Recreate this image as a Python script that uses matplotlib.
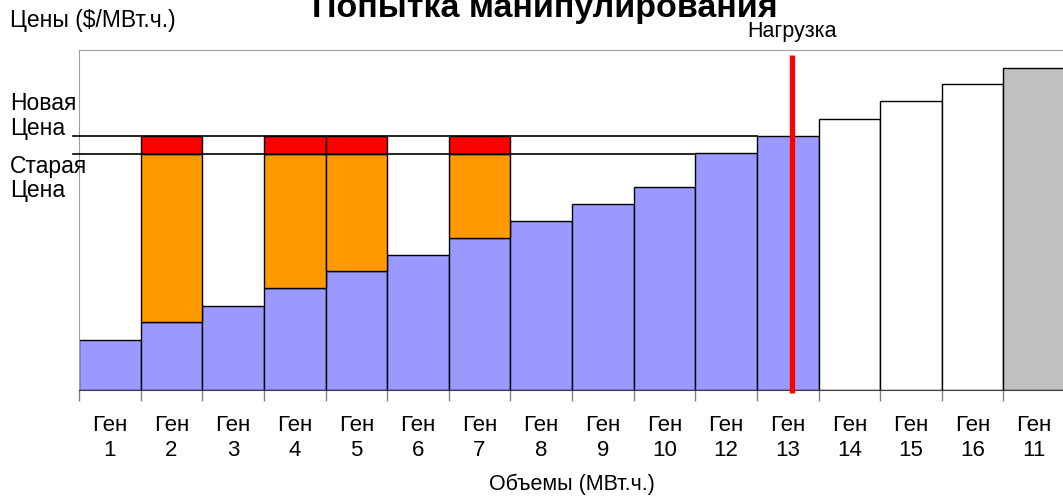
import numpy as np
import matplotlib.pyplot as plt

plt.rcParams['font.family'] = ['Liberation Sans', 'DejaVu Sans']

# ----------------------------
# Data
# ----------------------------
gens = ["1", "2", "3", "4", "5", "6", "7", "8", "9", "10", "12", "13", "14", "15", "16", "11"]
prices = [50, 68, 84, 102, 119, 135, 152, 169, 186, 203, 237, 254, 271, 289, 306, 322]
manipulated = ["2", "4", "5", "7"]
old_price = 236
new_price = 254
load = 11.57
dispatched = 12   # first 12 gens are running

blue = '#9999FF'
orange = '#FF9900'
red = '#FF0000'
gray = '#C0C0C0'

fig = plt.figure(figsize=(10.63, 5), dpi=100)
ax = fig.add_axes([79/1063, 0.22, 986/1063, 0.68])

x = np.arange(len(gens))
colors = [blue]*dispatched + ['white']*(len(gens)-dispatched-1) + [gray]
ax.bar(x, prices, width=1, align='edge', color=colors, edgecolor='black', linewidth=1, zorder=2)

# manipulated bids: orange up to old price, red up to new price
for i, g in enumerate(gens):
    if g in manipulated:
        ax.bar(i, old_price - prices[i], bottom=prices[i], width=1, align='edge',
               color=orange, edgecolor='black', linewidth=1, zorder=2)
        ax.bar(i, new_price - old_price, bottom=old_price, width=1, align='edge',
               color=red, edgecolor='black', linewidth=1, zorder=2)

# price lines
ax.plot([-0.1, 11], [new_price, new_price], color='black', lw=1.2, clip_on=False, zorder=3)
ax.plot([-0.1, 10], [old_price, old_price], color='black', lw=1.2, clip_on=False, zorder=3)

# load line
ax.plot([load, load], [-3, 335], color=red, lw=3.8, clip_on=False, zorder=4, solid_capstyle='butt')
ax.text(load, 358, 'Нагрузка', ha='center', va='center', fontsize=15.5)

ax.set_xlim(0, 16)
ax.set_ylim(0, 340)
ax.set_yticks([])
ax.set_xticks(np.arange(0, 17))
ax.set_xticklabels([])
ax.tick_params(axis='x', which='major', length=8, color='#808080', width=1)
ax.set_xticks(x + 0.5, minor=True)
ax.set_xticklabels(['Ген\n' + g for g in gens], minor=True, fontsize=16, linespacing=1.25)
ax.tick_params(axis='x', which='minor', length=0, pad=18)

for s in ['left', 'top']:
    ax.spines[s].set_color('#A0A0A0')
ax.spines['right'].set_visible(False)
ax.spines['bottom'].set_color('#404040')

ax.set_xlabel('Объемы (МВт.ч.)', fontsize=15.5, labelpad=9)

fig.text(10/1063, 1 - 20/500, 'Цены ($/МВт.ч.)', fontsize=16.5, va='center', ha='left')
fig.text(10/1063, 1 - 103/500, 'Новая', fontsize=16.5, va='center', ha='left')
fig.text(10/1063, 1 - 128/500, 'Цена', fontsize=16.5, va='center', ha='left')
fig.text(10/1063, 1 - 166/500, 'Старая', fontsize=16.5, va='center', ha='left')
fig.text(10/1063, 1 - 191/500, 'Цена', fontsize=16.5, va='center', ha='left')
fig.text(545/1063, 1 - 17/500, 'Попытка манипулирования', fontsize=24.5, fontweight='bold',
         ha='center', va='baseline')

fig.savefig('out.png', dpi=100)
